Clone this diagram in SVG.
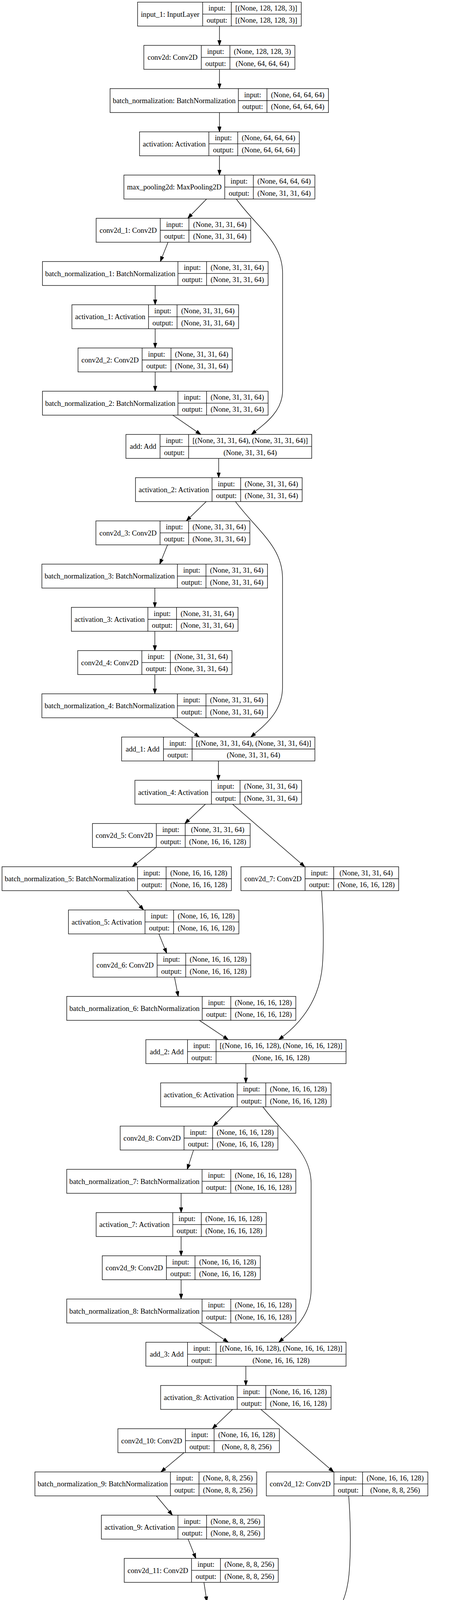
<svg xmlns="http://www.w3.org/2000/svg" width="1159" height="7045" viewBox="0 0 1159 7045">
<style>
rect.b{fill:none;stroke:#000;stroke-width:1.33}
path.d{fill:none;stroke:#000;stroke-width:1.33}
text{font-family:"Liberation Serif","Times New Roman",serif;font-size:18.67px;text-anchor:middle;fill:#000}
#edges path{fill:none;stroke:#000;stroke-width:1.33;marker-end:url(#ah)}
</style>
<defs>
<marker id="ah" markerWidth="14" markerHeight="10" refX="13.3" refY="4.7" orient="auto" markerUnits="userSpaceOnUse"><path d="M0,0 L13.3,4.7 L0,9.4 z" fill="#000" stroke="#000" stroke-width="1"/></marker>
</defs>
<rect x="0" y="0" width="1159" height="7045" fill="#fff"/>
<g id="edges">
<path d="M561.5 66.8V116.2"/>
<path d="M561.5 177.5V226.8"/>
<path d="M561.5 288.1V337.5"/>
<path d="M561.5 398.8V448.2"/>
<path d="M528.5 509.5L480.4 558.8"/>
<path d="M604.6 509.5C660 585 723 620 723 700L723 1000C723 1050 685 1080 643 1112.2"/>
<path d="M430 620.1L410.2 669.5"/>
<path d="M397 730.8V780.2"/>
<path d="M397 841.5V890.8"/>
<path d="M397 952.1V1001.5"/>
<path d="M442 1062.8L513.7 1112.2"/>
<path d="M559.5 1173.5V1222.8"/>
<path d="M527.7 1284.1L476.7 1333.5"/>
<path d="M602.4 1284.1C660 1360 722.8 1400 722.8 1480L722.8 1760C722.8 1820 680 1855 641.5 1886.8"/>
<path d="M428.7 1394.8L408.7 1444.2"/>
<path d="M396.2 1505.5V1554.8"/>
<path d="M396.2 1616.1V1665.5"/>
<path d="M396.2 1726.8V1776.2"/>
<path d="M441.2 1837.5L510 1886.8"/>
<path d="M558.8 1948.1V1997.5"/>
<path d="M525.5 2058.8L473 2108.2"/>
<path d="M595 2058.8L779.7 2218.8"/>
<path d="M399 2169.5L338.5 2218.8"/>
<path d="M325.2 2280.1L367.3 2329.5"/>
<path d="M406.5 2390.8L426.5 2440.2"/>
<path d="M446.4 2501.5L456 2550.8"/>
<path d="M510 2612.1L584 2661.5"/>
<path d="M822.6 2280.1C826 2330 830 2400 825 2470C818 2560 770 2620 713 2661.5"/>
<path d="M629 2722.8V2772.2"/>
<path d="M595 2833.5L545.5 2882.8"/>
<path d="M672.6 2833.5C730 2910 796 2950 796 3030L796 3300C796 3370 750 3405 713.2 3436.2"/>
<path d="M495.2 2944.1L479 2993.5"/>
<path d="M463.4 3054.8V3104.2"/>
<path d="M463.4 3165.5V3214.8"/>
<path d="M463.4 3276.1V3325.5"/>
<path d="M510 3386.8L584 3436.2"/>
<path d="M629 3497.5V3546.8"/>
<path d="M595 3608.1L543.2 3657.5"/>
<path d="M667.4 3608.1L853.7 3768.2"/>
<path d="M470.8 3718.8L411.7 3768.2"/>
<path d="M400 3829.5L441.2 3878.8"/>
<path d="M481.2 3940.1L501.1 3989.5"/>
<path d="M521.8 4050.8L529.2 4100.2"/>
<path d="M583.9 4161.5L654 4210.8"/>
<path d="M892.1 3829.5C896 3880 899 3960 893 4030C885 4120 840 4170 783.4 4210.8"/>
<path d="M700.7 4272.1V4321.5"/>
<path d="M668.9 4382.8L619.4 4432.2"/>
<path d="M742.8 4382.8C800 4460 863.3 4500 863.3 4580L863.3 4850C863.3 4920 820 4955 781.2 4985.5"/>
<path d="M570.6 4493.5L552.8 4542.8"/>
<path d="M538.8 4604.1V4653.5"/>
<path d="M538.8 4714.8V4764.2"/>
<path d="M538.8 4825.5V4874.8"/>
<path d="M583.9 4936.1L654 4985.5"/>
<path d="M700.7 5046.8V5096.2"/>
<path d="M668.9 5157.5L619.4 5206.8"/>
<path d="M737.6 5157.5L918.7 5317.5"/>
<path d="M546.2 5268.1L486.3 5317.5"/>
<path d="M471.5 5378.8L511.5 5428.2"/>
<path d="M551.4 5489.5L569.1 5538.8"/>
<path d="M589.8 5600.1L598.7 5649.5"/>
<path d="M651.9 5710.8L722.1 5760.2"/>
<path d="M960.8 5378.8C964 5440 967 5510 960 5580C952 5660 905 5715 852.2 5760.2"/>
<path d="M768.7 5821.5V5870.8"/>
<path d="M736.1 5932.1L686.6 5981.5"/>
<path d="M811.5 5932.1C870 6010 931.5 6050 931.5 6130L931.5 6400C931.5 6470 890 6505 850 6534.8"/>
<path d="M638.6 6042.8L620.1 6092.2"/>
<path d="M606.8 6153.5V6202.8"/>
<path d="M606.8 6264.1V6313.5"/>
<path d="M606.8 6374.8V6424.2"/>
<path d="M651.9 6485.5L722.1 6534.8"/>
<path d="M769.4 6596.1V6645.5"/>
<path d="M769.4 6706.8V6756.2"/>
<path d="M769.4 6817.5V6866.8"/>
<path d="M769.4 6928.1V6977.5"/>
</g>
<g id="nodes">
<g id="input_1"><rect class="b" x="352" y="5.5" width="418.7" height="61.3"/><path class="d" d="M518.5 5.5V66.8M591.7 5.5V66.8M518.5 36.2H770.7"/><text x="435.3" y="42.7">input_1: InputLayer</text><text x="555.1" y="27.3">input:</text><text x="555.1" y="58">output:</text><text x="681.2" y="27.3">[(None, 128, 128, 3)]</text><text x="681.2" y="58">[(None, 128, 128, 3)]</text></g>
<g id="conv2d"><rect class="b" x="368" y="116.2" width="386.5" height="61.3"/><path class="d" d="M515 116.2V177.5M588.3 116.2V177.5M515 146.9H754.5"/><text x="441.5" y="153.4">conv2d: Conv2D</text><text x="551.7" y="138">input:</text><text x="551.7" y="168.7">output:</text><text x="671.4" y="138">(None, 128, 128, 3)</text><text x="671.4" y="168.7">(None, 64, 64, 64)</text></g>
<g id="batch_normalization"><rect class="b" x="281.6" y="226.8" width="558.8" height="61.3"/><path class="d" d="M609.8 226.8V288.1M683 226.8V288.1M609.8 257.5H840.4"/><text x="445.7" y="264">batch_normalization: BatchNormalization</text><text x="646.4" y="248.6">input:</text><text x="646.4" y="279.3">output:</text><text x="761.7" y="248.6">(None, 64, 64, 64)</text><text x="761.7" y="279.3">(None, 64, 64, 64)</text></g>
<g id="activation"><rect class="b" x="357" y="337.5" width="408.7" height="61.3"/><path class="d" d="M534.4 337.5V398.8M608.3 337.5V398.8M534.4 368.2H765.7"/><text x="445.7" y="374.7">activation: Activation</text><text x="571.4" y="359.3">input:</text><text x="571.4" y="390">output:</text><text x="687" y="359.3">(None, 64, 64, 64)</text><text x="687" y="390">(None, 64, 64, 64)</text></g>
<g id="max_pooling2d"><rect class="b" x="317" y="448.2" width="488.6" height="61.3"/><path class="d" d="M575 448.2V509.5M648.2 448.2V509.5M575 478.9H805.6"/><text x="446" y="485.4">max_pooling2d: MaxPooling2D</text><text x="611.6" y="470">input:</text><text x="611.6" y="500.7">output:</text><text x="726.9" y="470">(None, 64, 64, 64)</text><text x="726.9" y="500.7">(None, 31, 31, 64)</text></g>
<g id="conv2d_1"><rect class="b" x="246" y="558.8" width="395.5" height="61.3"/><path class="d" d="M410 558.8V620.1M483.4 558.8V620.1M410 589.5H641.5"/><text x="328" y="596">conv2d_1: Conv2D</text><text x="446.7" y="580.6">input:</text><text x="446.7" y="611.3">output:</text><text x="562.5" y="580.6">(None, 31, 31, 64)</text><text x="562.5" y="611.3">(None, 31, 31, 64)</text></g>
<g id="batch_normalization_1"><rect class="b" x="108.6" y="669.5" width="577.3" height="61.3"/><path class="d" d="M455.3 669.5V730.8M528.5 669.5V730.8M455.3 700.2H685.9"/><text x="282" y="706.7">batch_normalization_1: BatchNormalization</text><text x="491.9" y="691.3">input:</text><text x="491.9" y="722">output:</text><text x="607.2" y="691.3">(None, 31, 31, 64)</text><text x="607.2" y="722">(None, 31, 31, 64)</text></g>
<g id="activation_1"><rect class="b" x="184" y="780.2" width="426.5" height="61.3"/><path class="d" d="M380 780.2V841.5M453 780.2V841.5M380 810.9H610.5"/><text x="282" y="817.4">activation_1: Activation</text><text x="416.5" y="802">input:</text><text x="416.5" y="832.7">output:</text><text x="531.8" y="802">(None, 31, 31, 64)</text><text x="531.8" y="832.7">(None, 31, 31, 64)</text></g>
<g id="conv2d_2"><rect class="b" x="199.6" y="890.8" width="394.6" height="61.3"/><path class="d" d="M363.6 890.8V952.1M437.5 890.8V952.1M363.6 921.5H594.2"/><text x="281.6" y="928">conv2d_2: Conv2D</text><text x="400.6" y="912.6">input:</text><text x="400.6" y="943.3">output:</text><text x="515.9" y="912.6">(None, 31, 31, 64)</text><text x="515.9" y="943.3">(None, 31, 31, 64)</text></g>
<g id="batch_normalization_2"><rect class="b" x="108.6" y="1001.5" width="577.3" height="61.3"/><path class="d" d="M455.3 1001.5V1062.8M528.5 1001.5V1062.8M455.3 1032.2H685.9"/><text x="282" y="1038.7">batch_normalization_2: BatchNormalization</text><text x="491.9" y="1023.3">input:</text><text x="491.9" y="1054">output:</text><text x="607.2" y="1023.3">(None, 31, 31, 64)</text><text x="607.2" y="1054">(None, 31, 31, 64)</text></g>
<g id="add"><rect class="b" x="322.2" y="1112.2" width="475.3" height="61.3"/><path class="d" d="M409.5 1112.2V1173.5M482.6 1112.2V1173.5M409.5 1142.9H797.5"/><text x="365.9" y="1149.4">add: Add</text><text x="446.1" y="1134">input:</text><text x="446.1" y="1164.7">output:</text><text x="640.1" y="1134">[(None, 31, 31, 64), (None, 31, 31, 64)]</text><text x="640.1" y="1164.7">(None, 31, 31, 64)</text></g>
<g id="activation_2"><rect class="b" x="346.6" y="1222.8" width="426.5" height="61.3"/><path class="d" d="M542.5 1222.8V1284.1M615.7 1222.8V1284.1M542.5 1253.5H773.1"/><text x="444.6" y="1260">activation_2: Activation</text><text x="579.1" y="1244.6">input:</text><text x="579.1" y="1275.3">output:</text><text x="694.4" y="1244.6">(None, 31, 31, 64)</text><text x="694.4" y="1275.3">(None, 31, 31, 64)</text></g>
<g id="conv2d_3"><rect class="b" x="245.4" y="1333.5" width="393.9" height="61.3"/><path class="d" d="M409.5 1333.5V1394.8M482.6 1333.5V1394.8M409.5 1364.2H639.3"/><text x="327.5" y="1370.7">conv2d_3: Conv2D</text><text x="446.1" y="1355.3">input:</text><text x="446.1" y="1386">output:</text><text x="561" y="1355.3">(None, 31, 31, 64)</text><text x="561" y="1386">(None, 31, 31, 64)</text></g>
<g id="batch_normalization_3"><rect class="b" x="107.2" y="1444.2" width="577.2" height="61.3"/><path class="d" d="M453.8 1444.2V1505.5M527 1444.2V1505.5M453.8 1474.9H684.4"/><text x="280.5" y="1481.4">batch_normalization_3: BatchNormalization</text><text x="490.4" y="1466">input:</text><text x="490.4" y="1496.7">output:</text><text x="605.7" y="1466">(None, 31, 31, 64)</text><text x="605.7" y="1496.7">(None, 31, 31, 64)</text></g>
<g id="activation_3"><rect class="b" x="182.6" y="1554.8" width="426.4" height="61.3"/><path class="d" d="M378.4 1554.8V1616.1M451.6 1554.8V1616.1M378.4 1585.5H609"/><text x="280.5" y="1592">activation_3: Activation</text><text x="415" y="1576.6">input:</text><text x="415" y="1607.3">output:</text><text x="530.3" y="1576.6">(None, 31, 31, 64)</text><text x="530.3" y="1607.3">(None, 31, 31, 64)</text></g>
<g id="conv2d_4"><rect class="b" x="198.8" y="1665.5" width="394.7" height="61.3"/><path class="d" d="M362.9 1665.5V1726.8M436 1665.5V1726.8M362.9 1696.2H593.5"/><text x="280.9" y="1702.7">conv2d_4: Conv2D</text><text x="399.5" y="1687.3">input:</text><text x="399.5" y="1718">output:</text><text x="514.8" y="1687.3">(None, 31, 31, 64)</text><text x="514.8" y="1718">(None, 31, 31, 64)</text></g>
<g id="batch_normalization_4"><rect class="b" x="107.2" y="1776.2" width="577.2" height="61.3"/><path class="d" d="M453.8 1776.2V1837.5M527 1776.2V1837.5M453.8 1806.9H684.4"/><text x="280.5" y="1813.4">batch_normalization_4: BatchNormalization</text><text x="490.4" y="1798">input:</text><text x="490.4" y="1828.7">output:</text><text x="605.7" y="1798">(None, 31, 31, 64)</text><text x="605.7" y="1828.7">(None, 31, 31, 64)</text></g>
<g id="add_1"><rect class="b" x="311.2" y="1886.8" width="494.4" height="61.3"/><path class="d" d="M418.3 1886.8V1948.1M491.5 1886.8V1948.1M418.3 1917.5H805.6"/><text x="364.8" y="1924">add_1: Add</text><text x="454.9" y="1908.6">input:</text><text x="454.9" y="1939.3">output:</text><text x="648.6" y="1908.6">[(None, 31, 31, 64), (None, 31, 31, 64)]</text><text x="648.6" y="1939.3">(None, 31, 31, 64)</text></g>
<g id="activation_4"><rect class="b" x="345.2" y="1997.5" width="426.4" height="61.3"/><path class="d" d="M541 1997.5V2058.8M614.2 1997.5V2058.8M541 2028.2H771.6"/><text x="443.1" y="2034.7">activation_4: Activation</text><text x="577.6" y="2019.3">input:</text><text x="577.6" y="2050">output:</text><text x="692.9" y="2019.3">(None, 31, 31, 64)</text><text x="692.9" y="2050">(None, 31, 31, 64)</text></g>
<g id="conv2d_5"><rect class="b" x="236.5" y="2108.2" width="403.5" height="61.3"/><path class="d" d="M399.9 2108.2V2169.5M473.8 2108.2V2169.5M399.9 2138.9H640"/><text x="318.2" y="2145.4">conv2d_5: Conv2D</text><text x="436.9" y="2130">input:</text><text x="436.9" y="2160.7">output:</text><text x="556.9" y="2130">(None, 31, 31, 64)</text><text x="556.9" y="2160.7">(None, 16, 16, 128)</text></g>
<g id="batch_normalization_5"><rect class="b" x="5.2" y="2218.8" width="586.8" height="61.3"/><path class="d" d="M351.8 2218.8V2280.1M425 2218.8V2280.1M351.8 2249.5H592"/><text x="178.5" y="2256">batch_normalization_5: BatchNormalization</text><text x="388.4" y="2240.6">input:</text><text x="388.4" y="2271.3">output:</text><text x="508.5" y="2240.6">(None, 16, 16, 128)</text><text x="508.5" y="2271.3">(None, 16, 16, 128)</text></g>
<g id="conv2d_7"><rect class="b" x="616.4" y="2218.8" width="403.6" height="61.3"/><path class="d" d="M780.5 2218.8V2280.1M853.7 2218.8V2280.1M780.5 2249.5H1020"/><text x="698.5" y="2256">conv2d_7: Conv2D</text><text x="817.1" y="2240.6">input:</text><text x="817.1" y="2271.3">output:</text><text x="936.9" y="2240.6">(None, 31, 31, 64)</text><text x="936.9" y="2271.3">(None, 16, 16, 128)</text></g>
<g id="activation_5"><rect class="b" x="175.2" y="2329.5" width="436" height="61.3"/><path class="d" d="M371 2329.5V2390.8M444.2 2329.5V2390.8M371 2360.2H611.2"/><text x="273.1" y="2366.7">activation_5: Activation</text><text x="407.6" y="2351.3">input:</text><text x="407.6" y="2382">output:</text><text x="527.7" y="2351.3">(None, 16, 16, 128)</text><text x="527.7" y="2382">(None, 16, 16, 128)</text></g>
<g id="conv2d_6"><rect class="b" x="238" y="2440.2" width="403.5" height="61.3"/><path class="d" d="M402 2440.2V2501.5M475.2 2440.2V2501.5M402 2470.9H641.5"/><text x="320" y="2477.4">conv2d_6: Conv2D</text><text x="438.6" y="2462">input:</text><text x="438.6" y="2492.7">output:</text><text x="558.4" y="2462">(None, 16, 16, 128)</text><text x="558.4" y="2492.7">(None, 16, 16, 128)</text></g>
<g id="batch_normalization_6"><rect class="b" x="170.7" y="2550.8" width="586.1" height="61.3"/><path class="d" d="M517.4 2550.8V2612.1M590.5 2550.8V2612.1M517.4 2581.5H756.8"/><text x="344.1" y="2588">batch_normalization_6: BatchNormalization</text><text x="554" y="2572.6">input:</text><text x="554" y="2603.3">output:</text><text x="673.7" y="2572.6">(None, 16, 16, 128)</text><text x="673.7" y="2603.3">(None, 16, 16, 128)</text></g>
<g id="add_2"><rect class="b" x="373.2" y="2661.5" width="512.2" height="61.3"/><path class="d" d="M479.7 2661.5V2722.8M552.8 2661.5V2722.8M479.7 2692.2H885.4"/><text x="426.5" y="2698.7">add_2: Add</text><text x="516.3" y="2683.3">input:</text><text x="516.3" y="2714">output:</text><text x="719.1" y="2683.3">[(None, 16, 16, 128), (None, 16, 16, 128)]</text><text x="719.1" y="2714">(None, 16, 16, 128)</text></g>
<g id="activation_6"><rect class="b" x="411" y="2772.2" width="436" height="61.3"/><path class="d" d="M606.8 2772.2V2833.5M680 2772.2V2833.5M606.8 2802.9H847"/><text x="508.9" y="2809.4">activation_6: Activation</text><text x="643.4" y="2794">input:</text><text x="643.4" y="2824.7">output:</text><text x="763.5" y="2794">(None, 16, 16, 128)</text><text x="763.5" y="2824.7">(None, 16, 16, 128)</text></g>
<g id="conv2d_8"><rect class="b" x="307.5" y="2882.8" width="403.5" height="61.3"/><path class="d" d="M470.8 2882.8V2944.1M544 2882.8V2944.1M470.8 2913.5H711"/><text x="389.2" y="2920">conv2d_8: Conv2D</text><text x="507.4" y="2904.6">input:</text><text x="507.4" y="2935.3">output:</text><text x="627.5" y="2904.6">(None, 16, 16, 128)</text><text x="627.5" y="2935.3">(None, 16, 16, 128)</text></g>
<g id="batch_normalization_7"><rect class="b" x="170.7" y="2993.5" width="586.1" height="61.3"/><path class="d" d="M517 2993.5V3054.8M590.5 2993.5V3054.8M517 3024.2H756.8"/><text x="343.9" y="3030.7">batch_normalization_7: BatchNormalization</text><text x="553.8" y="3015.3">input:</text><text x="553.8" y="3046">output:</text><text x="673.7" y="3015.3">(None, 16, 16, 128)</text><text x="673.7" y="3046">(None, 16, 16, 128)</text></g>
<g id="activation_7"><rect class="b" x="246" y="3104.2" width="435.4" height="61.3"/><path class="d" d="M442 3104.2V3165.5M515 3104.2V3165.5M442 3134.9H681.4"/><text x="344" y="3141.4">activation_7: Activation</text><text x="478.5" y="3126">input:</text><text x="478.5" y="3156.7">output:</text><text x="598.2" y="3126">(None, 16, 16, 128)</text><text x="598.2" y="3156.7">(None, 16, 16, 128)</text></g>
<g id="conv2d_9"><rect class="b" x="261.6" y="3214.8" width="404.4" height="61.3"/><path class="d" d="M425.7 3214.8V3276.1M498.9 3214.8V3276.1M425.7 3245.5H666"/><text x="343.7" y="3252">conv2d_9: Conv2D</text><text x="462.3" y="3236.6">input:</text><text x="462.3" y="3267.3">output:</text><text x="582.5" y="3236.6">(None, 16, 16, 128)</text><text x="582.5" y="3267.3">(None, 16, 16, 128)</text></g>
<g id="batch_normalization_8"><rect class="b" x="170.7" y="3325.5" width="586.1" height="61.3"/><path class="d" d="M517 3325.5V3386.8M590.5 3325.5V3386.8M517 3356.2H756.8"/><text x="343.9" y="3362.7">batch_normalization_8: BatchNormalization</text><text x="553.8" y="3347.3">input:</text><text x="553.8" y="3378">output:</text><text x="673.7" y="3347.3">(None, 16, 16, 128)</text><text x="673.7" y="3378">(None, 16, 16, 128)</text></g>
<g id="add_3"><rect class="b" x="373.2" y="3436.2" width="512.2" height="61.3"/><path class="d" d="M479.7 3436.2V3497.5M552.8 3436.2V3497.5M479.7 3466.9H885.4"/><text x="426.5" y="3473.4">add_3: Add</text><text x="516.3" y="3458">input:</text><text x="516.3" y="3488.7">output:</text><text x="719.1" y="3458">[(None, 16, 16, 128), (None, 16, 16, 128)]</text><text x="719.1" y="3488.7">(None, 16, 16, 128)</text></g>
<g id="activation_8"><rect class="b" x="411" y="3546.8" width="436" height="61.3"/><path class="d" d="M606.8 3546.8V3608.1M680 3546.8V3608.1M606.8 3577.5H847"/><text x="508.9" y="3584">activation_8: Activation</text><text x="643.4" y="3568.6">input:</text><text x="643.4" y="3599.3">output:</text><text x="763.5" y="3568.6">(None, 16, 16, 128)</text><text x="763.5" y="3599.3">(None, 16, 16, 128)</text></g>
<g id="conv2d_10"><rect class="b" x="301.6" y="3657.5" width="413.1" height="61.3"/><path class="d" d="M474.5 3657.5V3718.8M547.7 3657.5V3718.8M474.5 3688.2H714.7"/><text x="388.1" y="3694.7">conv2d_10: Conv2D</text><text x="511.1" y="3679.3">input:</text><text x="511.1" y="3710">output:</text><text x="631.2" y="3679.3">(None, 16, 16, 128)</text><text x="631.2" y="3710">(None, 8, 8, 256)</text></g>
<g id="batch_normalization_9"><rect class="b" x="89.4" y="3768.2" width="567.6" height="61.3"/><path class="d" d="M436 3768.2V3829.5M509.2 3768.2V3829.5M436 3798.9H657"/><text x="262.7" y="3805.4">batch_normalization_9: BatchNormalization</text><text x="472.6" y="3790">input:</text><text x="472.6" y="3820.7">output:</text><text x="583.1" y="3790">(None, 8, 8, 256)</text><text x="583.1" y="3820.7">(None, 8, 8, 256)</text></g>
<g id="conv2d_12"><rect class="b" x="681.4" y="3768.2" width="413.2" height="61.3"/><path class="d" d="M854.4 3768.2V3829.5M927.6 3768.2V3829.5M854.4 3798.9H1094.6"/><text x="767.9" y="3805.4">conv2d_12: Conv2D</text><text x="891" y="3790">input:</text><text x="891" y="3820.7">output:</text><text x="1011.1" y="3790">(None, 16, 16, 128)</text><text x="1011.1" y="3820.7">(None, 8, 8, 256)</text></g>
<g id="activation_9"><rect class="b" x="259.4" y="3878.8" width="416.9" height="61.3"/><path class="d" d="M455.3 3878.8V3940.1M528.5 3878.8V3940.1M455.3 3909.5H676.3"/><text x="357.4" y="3916">activation_9: Activation</text><text x="491.9" y="3900.6">input:</text><text x="491.9" y="3931.3">output:</text><text x="602.4" y="3900.6">(None, 8, 8, 256)</text><text x="602.4" y="3931.3">(None, 8, 8, 256)</text></g>
<g id="conv2d_11"><rect class="b" x="317.8" y="3989.5" width="394" height="61.3"/><path class="d" d="M490 3989.5V4050.8M564 3989.5V4050.8M490 4020.2H711.8"/><text x="403.9" y="4026.7">conv2d_11: Conv2D</text><text x="527" y="4011.3">input:</text><text x="527" y="4042">output:</text><text x="637.9" y="4011.3">(None, 8, 8, 256)</text><text x="637.9" y="4042">(None, 8, 8, 256)</text></g>
<g id="batch_normalization_10"><rect class="b" x="251.3" y="4100.2" width="575" height="61.3"/><path class="d" d="M605.3 4100.2V4161.5M678.5 4100.2V4161.5M605.3 4130.9H826.3"/><text x="428.3" y="4137.4">batch_normalization_10: BatchNormalization</text><text x="641.9" y="4122">input:</text><text x="641.9" y="4152.7">output:</text><text x="752.4" y="4122">(None, 8, 8, 256)</text><text x="752.4" y="4152.7">(None, 8, 8, 256)</text></g>
<g id="add_4"><rect class="b" x="463.4" y="4210.8" width="476" height="61.3"/><path class="d" d="M569.8 4210.8V4272.1M643 4210.8V4272.1M569.8 4241.5H939.4"/><text x="516.6" y="4248">add_4: Add</text><text x="606.4" y="4232.6">input:</text><text x="606.4" y="4263.3">output:</text><text x="791.2" y="4232.6">[(None, 8, 8, 256), (None, 8, 8, 256)]</text><text x="791.2" y="4263.3">(None, 8, 8, 256)</text></g>
<g id="activation_10"><rect class="b" x="487.8" y="4321.5" width="427.2" height="61.3"/><path class="d" d="M693.3 4321.5V4382.8M766.4 4321.5V4382.8M693.3 4352.2H915"/><text x="590.6" y="4358.7">activation_10: Activation</text><text x="729.9" y="4343.3">input:</text><text x="729.9" y="4374">output:</text><text x="840.7" y="4343.3">(None, 8, 8, 256)</text><text x="840.7" y="4374">(None, 8, 8, 256)</text></g>
<g id="conv2d_13"><rect class="b" x="386.5" y="4432.2" width="394.7" height="61.3"/><path class="d" d="M559.5 4432.2V4493.5M633.4 4432.2V4493.5M559.5 4462.9H781.2"/><text x="473" y="4469.4">conv2d_13: Conv2D</text><text x="596.5" y="4454">input:</text><text x="596.5" y="4484.7">output:</text><text x="707.3" y="4454">(None, 8, 8, 256)</text><text x="707.3" y="4484.7">(None, 8, 8, 256)</text></g>
<g id="batch_normalization_11"><rect class="b" x="251.3" y="4542.8" width="575" height="61.3"/><path class="d" d="M605.3 4542.8V4604.1M678.5 4542.8V4604.1M605.3 4573.5H826.3"/><text x="428.3" y="4580">batch_normalization_11: BatchNormalization</text><text x="641.9" y="4564.6">input:</text><text x="641.9" y="4595.3">output:</text><text x="752.4" y="4564.6">(None, 8, 8, 256)</text><text x="752.4" y="4595.3">(None, 8, 8, 256)</text></g>
<g id="activation_11"><rect class="b" x="325.2" y="4653.5" width="427.2" height="61.3"/><path class="d" d="M530.7 4653.5V4714.8M603.8 4653.5V4714.8M530.7 4684.2H752.4"/><text x="428" y="4690.7">activation_11: Activation</text><text x="567.3" y="4675.3">input:</text><text x="567.3" y="4706">output:</text><text x="678.1" y="4675.3">(None, 8, 8, 256)</text><text x="678.1" y="4706">(None, 8, 8, 256)</text></g>
<g id="conv2d_14"><rect class="b" x="341.5" y="4764.2" width="393.9" height="61.3"/><path class="d" d="M513.7 4764.2V4825.5M587.6 4764.2V4825.5M513.7 4794.9H735.4"/><text x="427.6" y="4801.4">conv2d_14: Conv2D</text><text x="550.7" y="4786">input:</text><text x="550.7" y="4816.7">output:</text><text x="661.5" y="4786">(None, 8, 8, 256)</text><text x="661.5" y="4816.7">(None, 8, 8, 256)</text></g>
<g id="batch_normalization_12"><rect class="b" x="251.3" y="4874.8" width="575" height="61.3"/><path class="d" d="M605.3 4874.8V4936.1M678.5 4874.8V4936.1M605.3 4905.5H826.3"/><text x="428.3" y="4912">batch_normalization_12: BatchNormalization</text><text x="641.9" y="4896.6">input:</text><text x="641.9" y="4927.3">output:</text><text x="752.4" y="4896.6">(None, 8, 8, 256)</text><text x="752.4" y="4927.3">(None, 8, 8, 256)</text></g>
<g id="add_5"><rect class="b" x="463.4" y="4985.5" width="476" height="61.3"/><path class="d" d="M569.8 4985.5V5046.8M643 4985.5V5046.8M569.8 5016.2H939.4"/><text x="516.6" y="5022.7">add_5: Add</text><text x="606.4" y="5007.3">input:</text><text x="606.4" y="5038">output:</text><text x="791.2" y="5007.3">[(None, 8, 8, 256), (None, 8, 8, 256)]</text><text x="791.2" y="5038">(None, 8, 8, 256)</text></g>
<g id="activation_12"><rect class="b" x="487.8" y="5096.2" width="427.2" height="61.3"/><path class="d" d="M693.3 5096.2V5157.5M766.4 5096.2V5157.5M693.3 5126.9H915"/><text x="590.6" y="5133.4">activation_12: Activation</text><text x="729.9" y="5118">input:</text><text x="729.9" y="5148.7">output:</text><text x="840.7" y="5118">(None, 8, 8, 256)</text><text x="840.7" y="5148.7">(None, 8, 8, 256)</text></g>
<g id="conv2d_15"><rect class="b" x="386.5" y="5206.8" width="394.7" height="61.3"/><path class="d" d="M559.5 5206.8V5268.1M633.4 5206.8V5268.1M559.5 5237.5H781.2"/><text x="473" y="5244">conv2d_15: Conv2D</text><text x="596.5" y="5228.6">input:</text><text x="596.5" y="5259.3">output:</text><text x="707.3" y="5228.6">(None, 8, 8, 256)</text><text x="707.3" y="5259.3">(None, 4, 4, 512)</text></g>
<g id="batch_normalization_13"><rect class="b" x="158.9" y="5317.5" width="575.8" height="61.3"/><path class="d" d="M513 5317.5V5378.8M586.1 5317.5V5378.8M513 5348.2H734.7"/><text x="336" y="5354.7">batch_normalization_13: BatchNormalization</text><text x="549.6" y="5339.3">input:</text><text x="549.6" y="5370">output:</text><text x="660.4" y="5339.3">(None, 4, 4, 512)</text><text x="660.4" y="5370">(None, 4, 4, 512)</text></g>
<g id="conv2d_17"><rect class="b" x="759" y="5317.5" width="394.7" height="61.3"/><path class="d" d="M932 5317.5V5378.8M1005.2 5317.5V5378.8M932 5348.2H1153.7"/><text x="845.5" y="5354.7">conv2d_17: Conv2D</text><text x="968.6" y="5339.3">input:</text><text x="968.6" y="5370">output:</text><text x="1079.5" y="5339.3">(None, 8, 8, 256)</text><text x="1079.5" y="5370">(None, 4, 4, 512)</text></g>
<g id="activation_13"><rect class="b" x="325.2" y="5428.2" width="427.2" height="61.3"/><path class="d" d="M530.7 5428.2V5489.5M603.8 5428.2V5489.5M530.7 5458.9H752.4"/><text x="428" y="5465.4">activation_13: Activation</text><text x="567.3" y="5450">input:</text><text x="567.3" y="5480.7">output:</text><text x="678.1" y="5450">(None, 4, 4, 512)</text><text x="678.1" y="5480.7">(None, 4, 4, 512)</text></g>
<g id="conv2d_16"><rect class="b" x="386.5" y="5538.8" width="394.7" height="61.3"/><path class="d" d="M559.5 5538.8V5600.1M633.4 5538.8V5600.1M559.5 5569.5H781.2"/><text x="473" y="5576">conv2d_16: Conv2D</text><text x="596.5" y="5560.6">input:</text><text x="596.5" y="5591.3">output:</text><text x="707.3" y="5560.6">(None, 4, 4, 512)</text><text x="707.3" y="5591.3">(None, 4, 4, 512)</text></g>
<g id="batch_normalization_14"><rect class="b" x="318.5" y="5649.5" width="575.8" height="61.3"/><path class="d" d="M673.3 5649.5V5710.8M746.5 5649.5V5710.8M673.3 5680.2H894.3"/><text x="495.9" y="5686.7">batch_normalization_14: BatchNormalization</text><text x="709.9" y="5671.3">input:</text><text x="709.9" y="5702">output:</text><text x="820.4" y="5671.3">(None, 4, 4, 512)</text><text x="820.4" y="5702">(None, 4, 4, 512)</text></g>
<g id="add_6"><rect class="b" x="531.4" y="5760.2" width="476" height="61.3"/><path class="d" d="M637.8 5760.2V5821.5M711 5760.2V5821.5M637.8 5790.9H1007.4"/><text x="584.6" y="5797.4">add_6: Add</text><text x="674.4" y="5782">input:</text><text x="674.4" y="5812.7">output:</text><text x="859.2" y="5782">[(None, 4, 4, 512), (None, 4, 4, 512)]</text><text x="859.2" y="5812.7">(None, 4, 4, 512)</text></g>
<g id="activation_14"><rect class="b" x="555.8" y="5870.8" width="427.2" height="61.3"/><path class="d" d="M761.3 5870.8V5932.1M834.4 5870.8V5932.1M761.3 5901.5H983"/><text x="658.6" y="5908">activation_14: Activation</text><text x="797.9" y="5892.6">input:</text><text x="797.9" y="5923.3">output:</text><text x="908.7" y="5892.6">(None, 4, 4, 512)</text><text x="908.7" y="5923.3">(None, 4, 4, 512)</text></g>
<g id="conv2d_18"><rect class="b" x="454.5" y="5981.5" width="394.7" height="61.3"/><path class="d" d="M627.5 5981.5V6042.8M700.7 5981.5V6042.8M627.5 6012.2H849.2"/><text x="541" y="6018.7">conv2d_18: Conv2D</text><text x="664.1" y="6003.3">input:</text><text x="664.1" y="6034">output:</text><text x="775" y="6003.3">(None, 4, 4, 512)</text><text x="775" y="6034">(None, 4, 4, 512)</text></g>
<g id="batch_normalization_15"><rect class="b" x="318.5" y="6092.2" width="575.8" height="61.3"/><path class="d" d="M673.3 6092.2V6153.5M746.5 6092.2V6153.5M673.3 6122.9H894.3"/><text x="495.9" y="6129.4">batch_normalization_15: BatchNormalization</text><text x="709.9" y="6114">input:</text><text x="709.9" y="6144.7">output:</text><text x="820.4" y="6114">(None, 4, 4, 512)</text><text x="820.4" y="6144.7">(None, 4, 4, 512)</text></g>
<g id="activation_15"><rect class="b" x="393.2" y="6202.8" width="427.2" height="61.3"/><path class="d" d="M598 6202.8V6264.1M671 6202.8V6264.1M598 6233.5H820.4"/><text x="495.6" y="6240">activation_15: Activation</text><text x="634.5" y="6224.6">input:</text><text x="634.5" y="6255.3">output:</text><text x="745.7" y="6224.6">(None, 4, 4, 512)</text><text x="745.7" y="6255.3">(None, 4, 4, 512)</text></g>
<g id="conv2d_19"><rect class="b" x="409.5" y="6313.5" width="393.9" height="61.3"/><path class="d" d="M582.4 6313.5V6374.8M655.6 6313.5V6374.8M582.4 6344.2H803.4"/><text x="496" y="6350.7">conv2d_19: Conv2D</text><text x="619" y="6335.3">input:</text><text x="619" y="6366">output:</text><text x="729.5" y="6335.3">(None, 4, 4, 512)</text><text x="729.5" y="6366">(None, 4, 4, 512)</text></g>
<g id="batch_normalization_16"><rect class="b" x="318.5" y="6424.2" width="575.8" height="61.3"/><path class="d" d="M673.3 6424.2V6485.5M746.5 6424.2V6485.5M673.3 6454.9H894.3"/><text x="495.9" y="6461.4">batch_normalization_16: BatchNormalization</text><text x="709.9" y="6446">input:</text><text x="709.9" y="6476.7">output:</text><text x="820.4" y="6446">(None, 4, 4, 512)</text><text x="820.4" y="6476.7">(None, 4, 4, 512)</text></g>
<g id="add_7"><rect class="b" x="531.4" y="6534.8" width="476" height="61.3"/><path class="d" d="M637.8 6534.8V6596.1M711 6534.8V6596.1M637.8 6565.5H1007.4"/><text x="584.6" y="6572">add_7: Add</text><text x="674.4" y="6556.6">input:</text><text x="674.4" y="6587.3">output:</text><text x="859.2" y="6556.6">[(None, 4, 4, 512), (None, 4, 4, 512)]</text><text x="859.2" y="6587.3">(None, 4, 4, 512)</text></g>
<g id="activation_16"><rect class="b" x="555.8" y="6645.5" width="427.2" height="61.3"/><path class="d" d="M761.3 6645.5V6706.8M834.4 6645.5V6706.8M761.3 6676.2H983"/><text x="658.6" y="6682.7">activation_16: Activation</text><text x="797.9" y="6667.3">input:</text><text x="797.9" y="6698">output:</text><text x="908.7" y="6667.3">(None, 4, 4, 512)</text><text x="908.7" y="6698">(None, 4, 4, 512)</text></g>
<g id="average_pooling2d"><rect class="b" x="505.5" y="6756.2" width="527.8" height="61.3"/><path class="d" d="M811.5 6756.2V6817.5M884.7 6756.2V6817.5M811.5 6786.9H1033.3"/><text x="658.5" y="6793.4">average_pooling2d: AveragePooling2D</text><text x="848.1" y="6778">input:</text><text x="848.1" y="6808.7">output:</text><text x="959" y="6778">(None, 4, 4, 512)</text><text x="959" y="6808.7">(None, 3, 3, 512)</text></g>
<g id="flatten"><rect class="b" x="595" y="6866.8" width="348.8" height="61.3"/><path class="d" d="M722.8 6866.8V6928.1M796 6866.8V6928.1M722.8 6897.5H943.8"/><text x="658.9" y="6904">flatten: Flatten</text><text x="759.4" y="6888.6">input:</text><text x="759.4" y="6919.3">output:</text><text x="869.9" y="6888.6">(None, 3, 3, 512)</text><text x="869.9" y="6919.3">(None, 4608)</text></g>
<g id="dense"><rect class="b" x="614.2" y="6977.5" width="310.4" height="61.3"/><path class="d" d="M732.4 6977.5V7038.8M805.6 6977.5V7038.8M732.4 7008.2H924.6"/><text x="673.3" y="7014.7">dense: Dense</text><text x="769" y="6999.3">input:</text><text x="769" y="7030">output:</text><text x="865.1" y="6999.3">(None, 4608)</text><text x="865.1" y="7030">(None, 3)</text></g>
</g>
</svg>
